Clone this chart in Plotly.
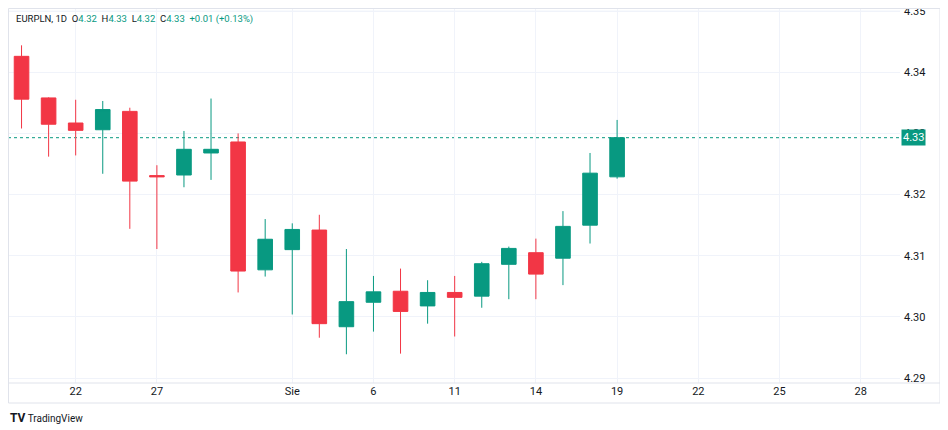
import plotly.graph_objects as go

# ---- data ----
bar_index = list(range(23))
opens  = [4.3426, 4.3358, 4.3317, 4.3306, 4.3336, 4.3231, 4.3232, 4.3268, 4.3286, 4.3077,
          4.3110, 4.3142, 4.2984, 4.3024, 4.3042, 4.3018, 4.3040, 4.3034, 4.3086, 4.3105,
          4.3096, 4.3150, 4.3229]
highs  = [4.3444, 4.3359, 4.3355, 4.3353, 4.3342, 4.3248, 4.3304, 4.3357, 4.3300, 4.3160,
          4.3153, 4.3167, 4.3111, 4.3067, 4.3079, 4.3060, 4.3067, 4.3090, 4.3115, 4.3128,
          4.3173, 4.3268, 4.3322]
lows   = [4.3308, 4.3262, 4.3264, 4.3234, 4.3144, 4.3111, 4.3212, 4.3224, 4.3040, 4.3066,
          4.3004, 4.2966, 4.2939, 4.2976, 4.2940, 4.2989, 4.2968, 4.3015, 4.3029, 4.3029,
          4.3052, 4.3120, 4.3226]
closes = [4.3356, 4.3315, 4.3305, 4.3339, 4.3222, 4.3229, 4.3274, 4.3274, 4.3075, 4.3127,
          4.3143, 4.2989, 4.3025, 4.3041, 4.3009, 4.3040, 4.3032, 4.3087, 4.3112, 4.3070,
          4.3148, 4.3235, 4.3293]

x_tick_positions = [2, 5, 10, 13, 16, 19, 22, 25, 28, 31]
x_tick_labels = ["22", "27", "Sie", "6", "11", "14", "19", "22", "25", "28"]
y_tick_values = [4.29, 4.30, 4.31, 4.32, 4.33, 4.34, 4.35]
y_tick_labels = ["4.29", "4.30", "4.31", "4.32", "4.33", "4.34", "4.35"]

last_price = closes[-1]
last_label = "4.33"

GREEN = "#089981"
RED = "#F23645"
TEXT = "#131722"
GRID = "#F0F3FA"
BORDER = "#E0E3EB"
FONT = "Roboto"

PW, PH = 892, 375  # plot area size in px

fig = go.Figure()
fig.add_trace(go.Candlestick(
    x=bar_index, open=opens, high=highs, low=lows, close=closes,
    increasing=dict(line=dict(color=GREEN, width=1), fillcolor=GREEN),
    decreasing=dict(line=dict(color=RED, width=1), fillcolor=RED),
    whiskerwidth=0, showlegend=False, hoverinfo="skip",
))

# last price dotted line
fig.add_shape(type="line", xref="paper", yref="y", x0=0, x1=1,
              y0=last_price, y1=last_price,
              line=dict(color=GREEN, width=1, dash="dot"), layer="below")

# top gridline (4.35), kept visible near the edge
fig.add_shape(type="line", xref="paper", yref="y", x0=0, x1=1,
              y0=y_tick_values[-1], y1=y_tick_values[-1],
              line=dict(color=GRID, width=1), layer="below")

# outer frame and time-axis line
fig.add_shape(type="rect", xref="paper", yref="paper",
              x0=0.5 / PW, x1=1 + 40 / PW, y0=-20 / PH, y1=1 - 0.5 / PH,
              line=dict(color=BORDER, width=1), fillcolor="rgba(0,0,0,0)", layer="above")
fig.add_shape(type="line", xref="paper", yref="paper",
              x0=0.5 / PW, x1=1 + 40 / PW, y0=0, y1=0,
              line=dict(color=BORDER, width=1), layer="above")

# price label box
fig.add_annotation(xref="paper", yref="y", x=1.0, y=last_price, xanchor="left",
                   yanchor="middle", text=last_label, showarrow=False,
                   font=dict(family=FONT, size=11, color="white"),
                   bgcolor=GREEN, borderpad=1, xshift=1)

# header legend
hdr = (f"<span style='color:{TEXT}'>EURPLN, 1D&nbsp;&nbsp;O</span>"
       f"<span style='color:{GREEN}'>4.32</span>"
       f"<span style='color:{TEXT}'>&nbsp;&nbsp;H</span><span style='color:{GREEN}'>4.33</span>"
       f"<span style='color:{TEXT}'>&nbsp;&nbsp;L</span><span style='color:{GREEN}'>4.32</span>"
       f"<span style='color:{TEXT}'>&nbsp;&nbsp;C</span><span style='color:{GREEN}'>4.33</span>"
       f"<span style='color:{GREEN}'>&nbsp;&nbsp;+0.01 (+0.13%)</span>")
fig.add_annotation(xref="paper", yref="paper", x=6 / PW, y=(PH - 11) / PH,
                   xanchor="left", yanchor="middle", text=hdr, showarrow=False,
                   font=dict(family=FONT, size=9.5, color=TEXT))

# TradingView mark
fig.add_annotation(xref="paper", yref="paper", x=0, y=(PH - 410) / PH,
                   xanchor="left", yanchor="middle",
                   text="<b style='font-size:12px'>TV</b> TradingView", showarrow=False,
                   font=dict(family=FONT, size=10, color=TEXT))

fig.update_layout(
    width=940, height=422,
    margin=dict(l=0, r=940 - PW, t=0, b=422 - PH, autoexpand=False),
    paper_bgcolor="white", plot_bgcolor="white",
    boxgap=0.23,
    font=dict(family=FONT, size=11, color=TEXT),
    xaxis=dict(range=[-0.5, 32.45], rangeslider=dict(visible=False), automargin=False,
               tickmode="array", tickvals=x_tick_positions, ticktext=x_tick_labels,
               showgrid=True, gridcolor=GRID, gridwidth=1, zeroline=False,
               showline=False, ticks="", tickfont=dict(size=11, color=TEXT)),
    yaxis=dict(range=[4.2892, 4.3505], side="right", automargin=False,
               tickmode="array", tickvals=y_tick_values, ticktext=y_tick_labels,
               showgrid=True, gridcolor=GRID, gridwidth=1, zeroline=False,
               showline=False, ticks="", ticklabelstandoff=3,
               ticklabeloverflow="allow",
               tickfont=dict(size=11, color=TEXT)),
)

fig.write_html("out.html")
